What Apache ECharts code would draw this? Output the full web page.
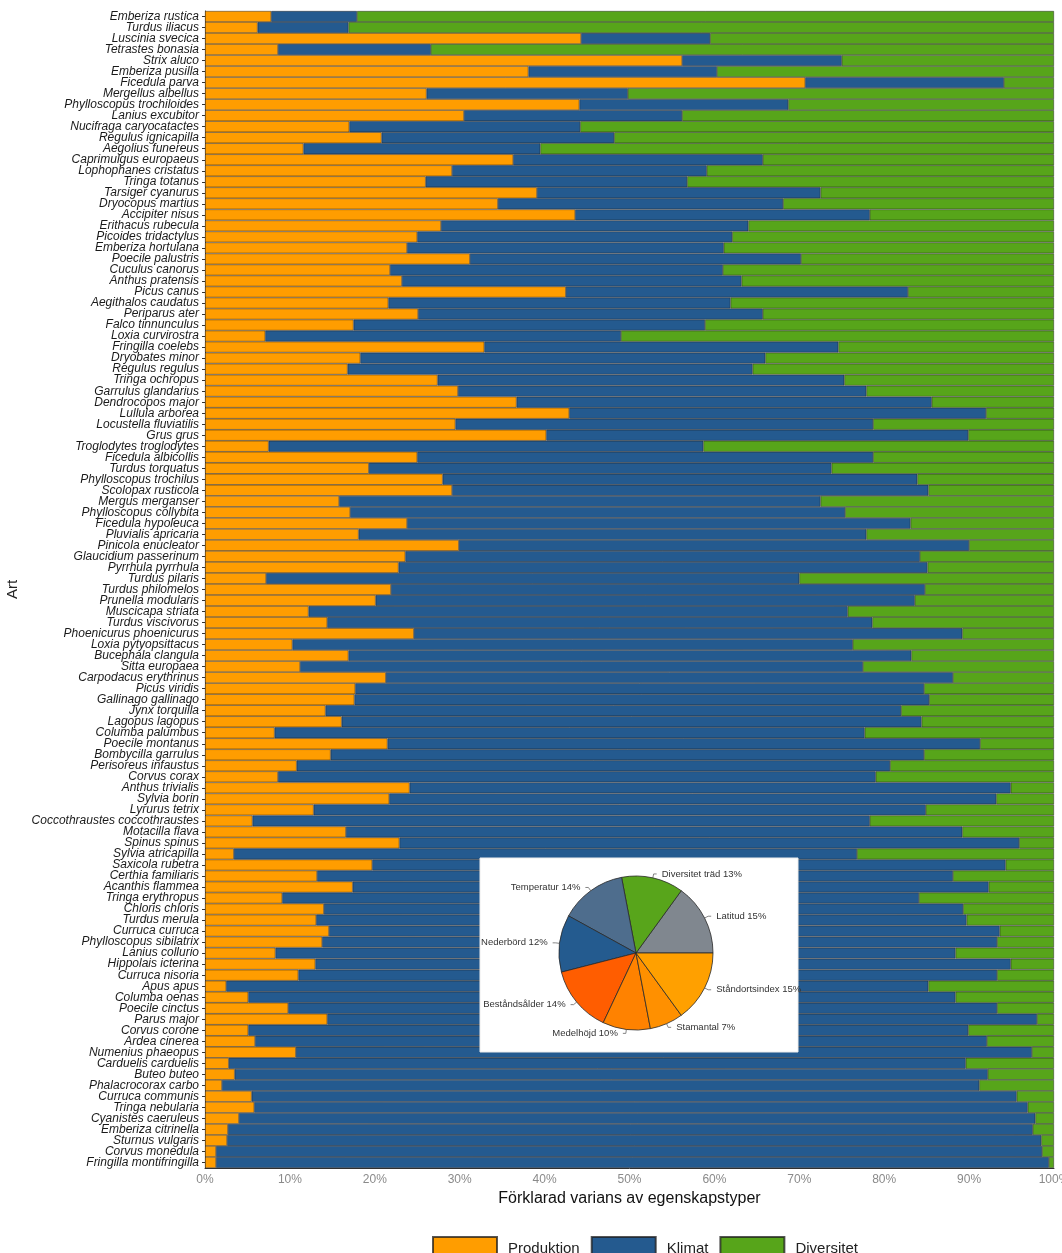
<!DOCTYPE html>
<html>
<head>
<meta charset="utf-8">
<script src="https://cdn.jsdelivr.net/npm/echarts@6/dist/echarts.min.js"></script>
<style>
  html, body { margin: 0; padding: 0; background: #ffffff; }
  #chart { width: 1062px; height: 1253px; }
</style>
</head>
<body>
<div id="chart"></div>
<script>
// Species, top to bottom
const species = [
  'Emberiza rustica', 'Turdus iliacus', 'Luscinia svecica', 'Tetrastes bonasia', 'Strix aluco',
  'Emberiza pusilla', 'Ficedula parva', 'Mergellus albellus', 'Phylloscopus trochiloides', 'Lanius excubitor',
  'Nucifraga caryocatactes', 'Regulus ignicapilla', 'Aegolius funereus', 'Caprimulgus europaeus', 'Lophophanes cristatus',
  'Tringa totanus', 'Tarsiger cyanurus', 'Dryocopus martius', 'Accipiter nisus', 'Erithacus rubecula',
  'Picoides tridactylus', 'Emberiza hortulana', 'Poecile palustris', 'Cuculus canorus', 'Anthus pratensis',
  'Picus canus', 'Aegithalos caudatus', 'Periparus ater', 'Falco tinnunculus', 'Loxia curvirostra',
  'Fringilla coelebs', 'Dryobates minor', 'Regulus regulus', 'Tringa ochropus', 'Garrulus glandarius',
  'Dendrocopos major', 'Lullula arborea', 'Locustella fluviatilis', 'Grus grus', 'Troglodytes troglodytes',
  'Ficedula albicollis', 'Turdus torquatus', 'Phylloscopus trochilus', 'Scolopax rusticola', 'Mergus merganser',
  'Phylloscopus collybita', 'Ficedula hypoleuca', 'Pluvialis apricaria', 'Pinicola enucleator', 'Glaucidium passerinum',
  'Pyrrhula pyrrhula', 'Turdus pilaris', 'Turdus philomelos', 'Prunella modularis', 'Muscicapa striata',
  'Turdus viscivorus', 'Phoenicurus phoenicurus', 'Loxia pytyopsittacus', 'Bucephala clangula', 'Sitta europaea',
  'Carpodacus erythrinus', 'Picus viridis', 'Gallinago gallinago', 'Jynx torquilla', 'Lagopus lagopus',
  'Columba palumbus', 'Poecile montanus', 'Bombycilla garrulus', 'Perisoreus infaustus', 'Corvus corax',
  'Anthus trivialis', 'Sylvia borin', 'Lyrurus tetrix', 'Coccothraustes coccothraustes', 'Motacilla flava',
  'Spinus spinus', 'Sylvia atricapilla', 'Saxicola rubetra', 'Certhia familiaris', 'Acanthis flammea',
  'Tringa erythropus', 'Chloris chloris', 'Turdus merula', 'Curruca curruca', 'Phylloscopus sibilatrix',
  'Lanius collurio', 'Hippolais icterina', 'Curruca nisoria', 'Apus apus', 'Columba oenas',
  'Poecile cinctus', 'Parus major', 'Corvus corone', 'Ardea cinerea', 'Numenius phaeopus',
  'Carduelis carduelis', 'Buteo buteo', 'Phalacrocorax carbo', 'Curruca communis', 'Tringa nebularia',
  'Cyanistes caeruleus', 'Emberiza citrinella', 'Sturnus vulgaris', 'Corvus monedula', 'Fringilla montifringilla'
];

// Explained variance (%) per trait group
const produktion = [
  7.8, 6.2, 44.3, 8.6, 56.2, 38.1, 70.7, 26.1, 44.1, 30.5,
  17.0, 20.8, 11.6, 36.3, 29.1, 26.0, 39.1, 34.5, 43.6, 27.8,
  25.0, 23.8, 31.2, 21.8, 23.2, 42.5, 21.6, 25.1, 17.5, 7.1,
  32.9, 18.3, 16.8, 27.4, 29.8, 36.7, 42.9, 29.5, 40.2, 7.5,
  25.0, 19.3, 28.0, 29.1, 15.8, 17.1, 23.8, 18.1, 29.9, 23.6,
  22.8, 7.2, 21.9, 20.1, 12.2, 14.4, 24.6, 10.3, 16.9, 11.2,
  21.3, 17.7, 17.6, 14.2, 16.1, 8.2, 21.5, 14.8, 10.8, 8.6,
  24.1, 21.7, 12.8, 5.6, 16.6, 22.9, 3.4, 19.7, 13.2, 17.4,
  9.1, 14.0, 13.1, 14.6, 13.8, 8.3, 13.0, 11.0, 2.5, 5.1,
  9.8, 14.4, 5.1, 5.9, 10.7, 2.8, 3.5, 2.0, 5.5, 5.8,
  4.0, 2.7, 2.6, 1.3, 1.3
];
const klimat = [
  10.1, 10.7, 15.2, 18.0, 18.8, 22.2, 23.4, 23.7, 24.6, 25.7,
  27.2, 27.4, 27.9, 29.4, 30.0, 30.8, 33.4, 33.6, 34.7, 36.2,
  37.1, 37.3, 39.0, 39.2, 40.0, 40.3, 40.3, 40.6, 41.4, 41.9,
  41.7, 47.7, 47.7, 47.9, 48.1, 48.9, 49.1, 49.2, 49.7, 51.2,
  53.7, 54.5, 55.9, 56.1, 56.7, 58.3, 59.3, 59.8, 60.1, 60.6,
  62.3, 62.8, 62.9, 63.5, 63.5, 64.2, 64.6, 66.0, 66.3, 66.3,
  66.8, 67.0, 67.7, 67.8, 68.3, 69.5, 69.8, 69.9, 69.9, 70.4,
  70.8, 71.5, 72.1, 72.7, 72.6, 73.0, 73.4, 74.6, 74.9, 74.9,
  75.0, 75.3, 76.6, 79.0, 79.5, 80.1, 81.9, 82.3, 82.7, 83.3,
  83.5, 83.6, 84.8, 86.2, 86.7, 86.8, 88.7, 89.2, 90.1, 91.1,
  93.8, 94.8, 95.9, 97.3, 98.1
];
const diversitet = [
  82.1, 83.1, 40.5, 73.4, 25.0, 39.7, 5.9, 50.2, 31.3, 43.8,
  55.8, 51.8, 60.5, 34.3, 40.9, 43.2, 27.5, 31.9, 21.7, 36.0,
  37.9, 38.9, 29.8, 39.0, 36.8, 17.2, 38.1, 34.3, 41.1, 51.0,
  25.4, 34.0, 35.5, 24.7, 22.1, 14.4, 8.0, 21.3, 10.1, 41.3,
  21.3, 26.2, 16.1, 14.8, 27.5, 24.6, 16.9, 22.1, 10.0, 15.8,
  14.9, 30.0, 15.2, 16.4, 24.3, 21.4, 10.8, 23.7, 16.8, 22.5,
  11.9, 15.3, 14.7, 18.0, 15.6, 22.3, 8.7, 15.3, 19.3, 21.0,
  5.1, 6.8, 15.1, 21.7, 10.8, 4.1, 23.2, 5.7, 11.9, 7.7,
  15.9, 10.7, 10.3, 6.4, 6.7, 11.6, 5.1, 6.7, 14.8, 11.6,
  6.7, 2.0, 10.1, 7.9, 2.6, 10.4, 7.8, 8.8, 4.4, 3.1,
  2.2, 2.5, 1.5, 1.4, 0.6
];

// Share of each individual trait (inset pie), counter-clockwise from 3 o'clock
const traitNames = ['Latitud', 'Diversitet träd', 'Temperatur', 'Nederbörd',
                    'Beståndsålder', 'Medelhöjd', 'Stamantal', 'Ståndortsindex'];
const traitShares = [15, 13, 14, 12, 14, 10, 7, 15];
const traitColors = ['#80878f', '#58a51b', '#4e6d8d', '#245b8f',
                     '#ff5d00', '#ff8200', '#ff9000', '#ffa000'];

const groupNames = ['Produktion', 'Klimat', 'Diversitet'];
const groupColors = ['#ff9d00', '#245a8f', '#57a51a'];

const FONT = '"Liberation Sans", Arial, sans-serif';

const chart = echarts.init(document.getElementById('chart'), null, { renderer: 'canvas' });

function barSeries(name, data, color) {
  return {
    name: name,
    type: 'bar',
    stack: 'total',
    barWidth: '100%',
    barCategoryGap: 0,
    itemStyle: { color: color, borderColor: 'rgba(30,30,30,0.75)', borderWidth: 0.6 },
    emphasis: { disabled: true },
    data: data,
    z: 2
  };
}

chart.setOption({
  animation: false,
  textStyle: { fontFamily: FONT },
  grid: { left: 205, right: 8, top: 11, bottom: 85, containLabel: false, outerBoundsMode: 'none' },
  legend: {
    data: groupNames,
    left: 427,
    top: 1231,
    orient: 'horizontal',
    itemWidth: 64,
    itemHeight: 24,
    itemGap: 11,
    icon: 'rect',
    textStyle: { fontSize: 15, color: '#222', fontFamily: FONT, padding: [0, 0, 0, 6] }
  },
  xAxis: {
    type: 'value',
    min: 0,
    max: 100,
    interval: 10,
    name: 'Förklarad varians av egenskapstyper',
    nameLocation: 'middle',
    nameGap: 23,
    nameTextStyle: { fontSize: 16, color: '#111', fontFamily: FONT },
    axisLine: { show: true, lineStyle: { color: '#333', width: 1 } },
    axisTick: { show: false },
    splitLine: { show: false },
    axisLabel: { formatter: '{value}%', fontSize: 12, color: '#8a8a8a', margin: 6, fontFamily: FONT }
  },
  yAxis: {
    type: 'category',
    data: species,
    inverse: true,
    name: 'Art',
    nameLocation: 'middle',
    nameRotate: 90,
    nameGap: 176,
    nameTextStyle: { fontSize: 15, color: '#222', fontFamily: FONT },
    axisLine: { show: true, lineStyle: { color: '#333', width: 1 } },
    axisTick: { show: true, alignWithLabel: true, length: 3, lineStyle: { color: '#333' } },
    axisLabel: { fontSize: 12, fontStyle: 'italic', color: '#1a1a1a', margin: 6, interval: 0, fontFamily: FONT }
  },
  graphic: [{
    type: 'rect',
    shape: { x: 480, y: 858, width: 318, height: 194 },
    style: { fill: '#ffffff', stroke: '#ececec', lineWidth: 1 },
    z: 50
  }],
  series: [
    barSeries(groupNames[0], produktion, groupColors[0]),
    barSeries(groupNames[1], klimat, groupColors[1]),
    barSeries(groupNames[2], diversitet, groupColors[2]),
    {
      type: 'pie',
      center: [636, 953],
      radius: 77,
      startAngle: 0,
      clockwise: false,
      z: 60,
      silent: true,
      data: traitNames.map((n, i) => ({ name: n, value: traitShares[i], itemStyle: { color: traitColors[i] } })),
      itemStyle: { borderColor: '#2a2a2a', borderWidth: 0.8 },
      label: {
        show: true,
        position: 'outside',
        formatter: p => p.name + ' ' + p.value + '%',
        fontSize: 9.5,
        color: '#333',
        fontFamily: FONT
      },
      labelLine: { show: true, length: 4, length2: 3, lineStyle: { color: '#666', width: 0.8 } },
      emphasis: { disabled: true }
    }
  ]
});
</script>
</body>
</html>
